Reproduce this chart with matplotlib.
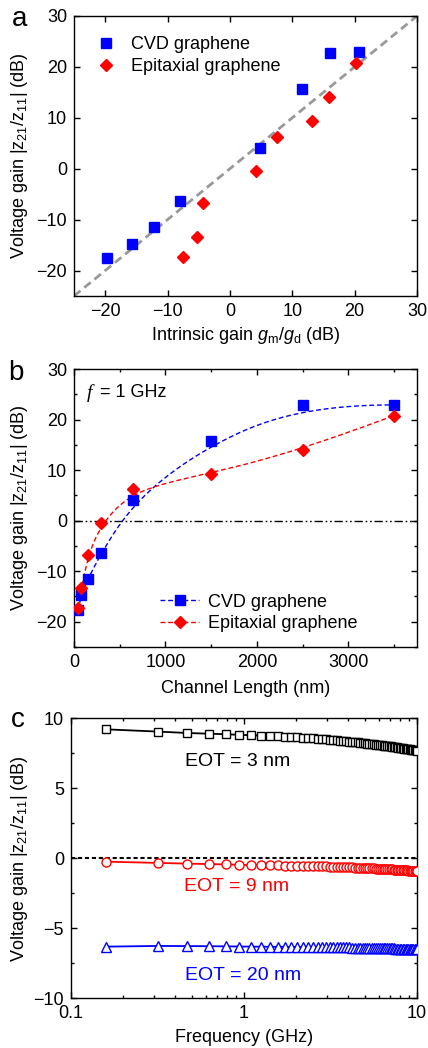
import numpy as np
import matplotlib
matplotlib.use("Agg")
import matplotlib.pyplot as plt
from matplotlib.ticker import MultipleLocator, FixedLocator, NullFormatter, LogLocator

plt.rcParams['font.family'] = ['Liberation Sans', 'DejaVu Sans']
plt.rcParams['mathtext.fontset'] = 'custom'
plt.rcParams['mathtext.rm'] = 'Liberation Sans'
plt.rcParams['mathtext.it'] = 'Liberation Sans:italic'
plt.rcParams['lines.scale_dashes'] = False

# ---------------- data ----------------
# panel a: intrinsic gain vs voltage gain
cvd_intrinsic = [-19.7, -15.7, -12.1, -8.0, 4.9, 11.5, 16.1, 20.7]
cvd_gain = [-17.6, -14.8, -11.5, -6.4, 4.1, 15.7, 22.8, 22.9]
epi_intrinsic = [-7.5, -5.3, -4.3, 4.2, 7.5, 13.2, 15.9, 20.2]
epi_gain = [-17.4, -13.4, -6.8, -0.5, 6.3, 9.3, 14.0, 20.8]

# panel b: channel length
channel_length = [40, 80, 150, 300, 650, 1500, 2500, 3500]
cvd_gain_b = [-17.7, -14.8, -11.5, -6.4, 4.0, 15.8, 22.9, 22.9]
epi_gain_b = [-17.3, -13.4, -6.8, -0.5, 6.3, 9.3, 14.0, 20.8]

# panel c: frequency sweep
freq = [0.16, 0.32, 0.47, 0.63, 0.79, 0.94, 1.10, 1.25, 1.41, 1.57,
        1.72, 1.88, 2.03, 2.19, 2.35, 2.50, 2.66, 2.82, 2.97, 3.13,
        3.28, 3.44, 3.60, 3.75, 3.91, 4.07, 4.22, 4.38, 4.53, 4.69,
        4.85, 5.00, 5.16, 5.31, 5.47, 5.63, 5.78, 5.94, 6.10, 6.25,
        6.41, 6.56, 6.72, 6.88, 7.03, 7.19, 7.35, 7.50, 7.66, 7.81,
        7.97, 8.13, 8.28, 8.44, 8.59, 8.75, 8.91, 9.06, 9.22, 9.38,
        9.53, 9.69, 9.84, 10.0]
eot3 = [9.21, 9.05, 8.95, 8.90, 8.86, 8.82, 8.79, 8.77, 8.74, 8.72,
        8.70, 8.67, 8.65, 8.62, 8.60, 8.58, 8.55, 8.53, 8.50, 8.48,
        8.46, 8.43, 8.41, 8.39, 8.36, 8.34, 8.32, 8.30, 8.28, 8.26,
        8.24, 8.22, 8.20, 8.18, 8.16, 8.14, 8.12, 8.11, 8.09, 8.07,
        8.05, 8.04, 8.02, 8.00, 7.99, 7.97, 7.95, 7.94, 7.92, 7.90,
        7.89, 7.87, 7.86, 7.84, 7.83, 7.81, 7.80, 7.78, 7.77, 7.76,
        7.74, 7.73, 7.72, 7.70]
eot9 = [-0.24, -0.33, -0.38, -0.41, -0.44, -0.46, -0.48, -0.49, -0.50, -0.51,
        -0.52, -0.53, -0.54, -0.54, -0.55, -0.56, -0.57, -0.58, -0.58, -0.59,
        -0.60, -0.61, -0.62, -0.62, -0.63, -0.64, -0.65, -0.66, -0.66, -0.67,
        -0.68, -0.69, -0.70, -0.70, -0.71, -0.72, -0.73, -0.73, -0.74, -0.75,
        -0.76, -0.76, -0.77, -0.78, -0.79, -0.79, -0.80, -0.81, -0.82, -0.82,
        -0.83, -0.84, -0.85, -0.85, -0.86, -0.87, -0.88, -0.88, -0.89, -0.90,
        -0.91, -0.91, -0.92, -0.93]
eot20 = [-6.31, -6.26, -6.27, -6.28, -6.29, -6.30, -6.31, -6.31, -6.32, -6.32,
         -6.32, -6.33, -6.33, -6.33, -6.34, -6.34, -6.34, -6.35, -6.35, -6.35,
         -6.36, -6.36, -6.36, -6.37, -6.37, -6.37, -6.38, -6.38, -6.38, -6.39,
         -6.39, -6.39, -6.40, -6.40, -6.40, -6.41, -6.41, -6.41, -6.42, -6.42,
         -6.42, -6.43, -6.43, -6.43, -6.44, -6.44, -6.44, -6.45, -6.45, -6.45,
         -6.46, -6.46, -6.46, -6.46, -6.47, -6.47, -6.47, -6.47, -6.47, -6.48,
         -6.48, -6.48, -6.48, -6.48]

BLUE = '#0000ff'
RED = '#ff0000'
FS = 13


def bspline_curve(x, y, npts=500, k=3):
    """Clamped cubic B-spline using the data points as control points."""
    P = np.column_stack([np.asarray(x, float), np.asarray(y, float)])
    n = len(P)
    inner = np.arange(1, n - k)
    knots = np.concatenate([np.zeros(k + 1), inner, np.full(k + 1, n - k)]).astype(float)
    ts = np.linspace(0, n - k, npts)
    ts[-1] -= 1e-9

    def basis(i, p, t):
        if p == 0:
            return np.where((knots[i] <= t) & (t < knots[i + 1]), 1.0, 0.0)
        out = np.zeros_like(t)
        d1 = knots[i + p] - knots[i]
        d2 = knots[i + p + 1] - knots[i + 1]
        if d1 > 0:
            out += (t - knots[i]) / d1 * basis(i, p - 1, t)
        if d2 > 0:
            out += (knots[i + p + 1] - t) / d2 * basis(i + 1, p - 1, t)
        return out

    B = np.column_stack([basis(i, k, ts) for i in range(n)])
    C = B @ P
    return C[:, 0], C[:, 1]


def style(ax):
    ax.tick_params(which='both', direction='in', top=True, right=True,
                   labelsize=FS, width=1, pad=5)
    ax.tick_params(which='major', length=4.5)
    ax.tick_params(which='minor', length=2.5)
    for s in ax.spines.values():
        s.set_linewidth(1.0)


fig = plt.figure(figsize=(4.28, 10.48), dpi=100)
W, H = 428.0, 1048.0

def axes_px(l, t, r, b):
    return fig.add_axes([l / W, 1 - b / H, (r - l) / W, (b - t) / H])

ylabel = r'Voltage gain |z$_{21}$/z$_{11}$| (dB)'

# ---------------- panel a ----------------
axa = axes_px(74, 16, 417, 296)
axa.plot([-25, 30], [-25, 30], color='#999999', lw=2, dashes=(6, 3.5), zorder=1)
axa.plot(cvd_intrinsic, cvd_gain, 's', color=BLUE, ms=6.7, mec=BLUE, label='CVD graphene', zorder=3)
axa.plot(epi_intrinsic, epi_gain, 'D', color=RED, ms=6.3, mec=RED, label='Epitaxial graphene', zorder=3)
axa.set_xlim(-25, 30); axa.set_ylim(-25, 30)
axa.xaxis.set_major_locator(FixedLocator([-20, -10, 0, 10, 20, 30]))
axa.yaxis.set_major_locator(FixedLocator([-20, -10, 0, 10, 20, 30]))
style(axa)
axa.set_xlabel(r'Intrinsic gain $g_\mathrm{m}/g_\mathrm{d}$ (dB)', fontsize=FS)
axa.set_ylabel(ylabel, fontsize=FS)
axa.xaxis.set_label_coords(0.5, -0.105)
axa.yaxis.set_label_coords(-0.128, 0.5)
axa.legend(loc='upper left', bbox_to_anchor=(0.067, 0.927), frameon=False, fontsize=FS,
           handlelength=1.0, handletextpad=0.9, labelspacing=0.25, borderpad=0, borderaxespad=0)
fig.text(20 / W, 1 - 19 / H, 'a', fontsize=20, ha='center', va='center')

# ---------------- panel b ----------------
axb = axes_px(74, 369, 417, 647)
axb.axhline(0, color='black', lw=1, dashes=(6, 2, 1.2, 2, 1.2, 2), zorder=1)
bx, by = bspline_curve(channel_length, cvd_gain_b)
axb.plot(bx, by, color=BLUE, lw=1, dashes=(3.5, 2), zorder=2)
rx, ry = bspline_curve(channel_length, epi_gain_b)
axb.plot(rx, ry, color=RED, lw=1, dashes=(3.5, 2), zorder=2)
axb.plot(channel_length, cvd_gain_b, 's', color=BLUE, ms=6.7, zorder=3)
axb.plot(channel_length, epi_gain_b, 'D', color=RED, ms=6.3, zorder=3)
hb1, = axb.plot([], [], color=BLUE, lw=1, dashes=(3.5, 2), marker='s', ms=6.7, label='CVD graphene')
hb2, = axb.plot([], [], color=RED, lw=1, dashes=(3.5, 2), marker='D', ms=6.3, label='Epitaxial graphene')
axb.set_xlim(0, 3750); axb.set_ylim(-25, 30)
axb.xaxis.set_major_locator(FixedLocator([0, 1000, 2000, 3000]))
axb.xaxis.set_minor_locator(MultipleLocator(500))
axb.yaxis.set_major_locator(FixedLocator([-20, -10, 0, 10, 20, 30]))
axb.yaxis.set_minor_locator(MultipleLocator(5))
style(axb)
axb.set_xlabel('Channel Length (nm)', fontsize=FS)
axb.set_ylabel(ylabel, fontsize=FS)
axb.xaxis.set_label_coords(0.5, -0.118)
axb.yaxis.set_label_coords(-0.128, 0.5)
axb.legend(handles=[hb1, hb2], loc='lower left', bbox_to_anchor=(0.25, 0.053), frameon=False,
           fontsize=FS, handlelength=2.2, handletextpad=0.45, labelspacing=0.25,
           borderpad=0, borderaxespad=0)
axb.text(0.038, 0.915, 'f', transform=axb.transAxes, fontsize=14, family='Liberation Serif',
         style='italic', ha='left', va='center')
axb.text(0.075, 0.915, '= 1 GHz', transform=axb.transAxes, fontsize=FS, ha='left', va='center')
fig.text(16 / W, 1 - 373 / H, 'b', fontsize=20, ha='center', va='center')

# ---------------- panel c ----------------
axc = axes_px(71, 718.3, 417, 998.3)
axc.axhline(0, color='black', lw=1.5, dashes=(3, 2), zorder=1)
axc.plot(freq, eot3, '-s', color='black', lw=1.3, ms=6, mfc='white', mew=1, zorder=3)
axc.plot(freq, eot9, '-o', color=RED, lw=1.3, ms=6.5, mfc='white', mew=1, zorder=3)
axc.plot(freq, eot20, '-^', color=BLUE, lw=1.3, ms=7, mfc='white', mew=1, zorder=3)
axc.set_xscale('log')
axc.set_xlim(0.1, 10); axc.set_ylim(-10, 10)
axc.xaxis.set_major_locator(FixedLocator([0.1, 1, 10]))
axc.set_xticklabels(['0.1', '1', '10'])
axc.xaxis.set_minor_locator(LogLocator(base=10, subs=np.arange(2, 10)))
axc.xaxis.set_minor_formatter(NullFormatter())
axc.yaxis.set_major_locator(FixedLocator([-10, -5, 0, 5, 10]))
axc.yaxis.set_minor_locator(MultipleLocator(2.5))
style(axc)
axc.set_xlabel('Frequency (GHz)', fontsize=FS)
axc.set_ylabel(ylabel, fontsize=FS)
axc.xaxis.set_label_coords(0.5, -0.108)
axc.yaxis.set_label_coords(-0.118, 0.5)
axc.text(0.923, 6.9, 'EOT = 3 nm', color='black', fontsize=14, ha='center', va='center')
axc.text(0.905, -2.03, 'EOT = 9 nm', color=RED, fontsize=14, ha='center', va='center')
axc.text(0.99, -8.34, 'EOT = 20 nm', color=BLUE, fontsize=14, ha='center', va='center')
fig.text(18 / W, 1 - 720 / H, 'c', fontsize=20, ha='center', va='center')

fig.savefig('out.png', dpi=100)
